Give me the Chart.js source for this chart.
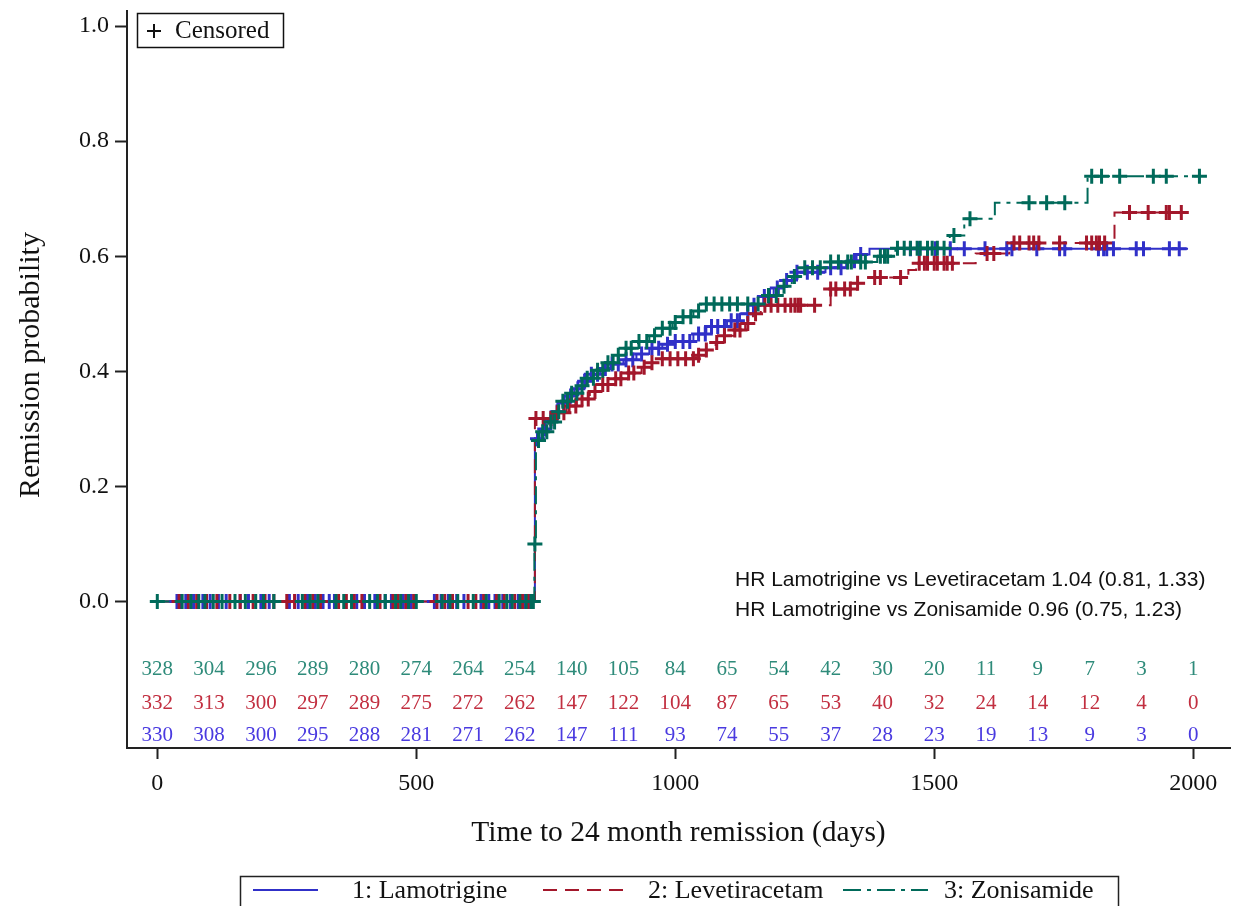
<!DOCTYPE html>
<html>
<head>
<meta charset="utf-8">
<script src="https://cdn.jsdelivr.net/npm/chart.js@4.4.0/dist/chart.umd.min.js"></script>
<style>
  html, body { margin: 0; padding: 0; background: #fff; }
</style>
</head>
<body>
<canvas id="km" width="1243" height="906"></canvas>
<script>
// Kaplan-Meier step points: [days, remission probability]
const lamSteps = [[0,0],[729,0.283],[738,0.30],[750,0.315],[762,0.33],[775,0.345],[790,0.357],[805,0.37],[820,0.383],[838,0.395],[855,0.405],[875,0.413],[900,0.42],[925,0.43],[950,0.44],[975,0.447],[1000,0.452],[1035,0.465],[1060,0.478],[1100,0.488],[1125,0.50],[1150,0.515],[1170,0.53],[1190,0.545],[1210,0.558],[1235,0.572],[1290,0.58],[1330,0.592],[1350,0.603],[1375,0.613],[1990,0.613]];
const levSteps = [[0,0],[729,0.318],[765,0.328],[790,0.34],[810,0.352],[835,0.365],[860,0.377],[885,0.387],[910,0.397],[935,0.407],[955,0.415],[975,0.422],[1040,0.428],[1060,0.437],[1078,0.45],[1095,0.462],[1115,0.472],[1135,0.483],[1150,0.50],[1165,0.515],[1300,0.543],[1340,0.553],[1370,0.563],[1450,0.576],[1465,0.588],[1580,0.605],[1645,0.623],[1848,0.676],[1990,0.676]];
const zonSteps = [[0,0],[728,0.10],[731,0.28],[742,0.295],[755,0.312],[768,0.33],[782,0.348],[797,0.362],[812,0.375],[830,0.388],[848,0.402],[865,0.415],[885,0.428],[905,0.44],[928,0.452],[950,0.462],[975,0.475],[995,0.485],[1015,0.495],[1035,0.505],[1050,0.517],[1180,0.532],[1200,0.548],[1225,0.565],[1250,0.58],[1300,0.59],[1390,0.60],[1425,0.614],[1530,0.636],[1558,0.665],[1617,0.693],[1796,0.739],[2015,0.739]];

// censoring times (days)
const lamCensor = [38,45,55,70,88,102,118,133,160,176,200,216,255,272,290,305,320,332,342,385,400,420,440,452,475,490,535,548,562,578,592,625,640,652,667,682,697,710,720,
  734,748,760,772,785,798,812,825,838,850,865,878,890,905,918,935,955,968,985,1000,1015,1028,1045,1058,1070,1082,1095,1108,1120,1140,1152,1172,1182,1197,1215,1235,1255,1275,1300,1320,1346,1358,1454,1471,1487,1502,1531,1558,1598,1640,1650,1698,1742,1752,1817,1827,1833,1846,1890,1904,1954,1973];
const levCensor = [42,60,76,95,115,140,160,185,208,225,250,265,285,300,315,350,365,380,395,430,455,465,480,495,540,555,570,600,615,630,655,670,690,705,716,724,
  731,745,760,772,785,795,808,820,832,845,860,870,885,895,910,920,940,955,975,990,1005,1020,1035,1045,1060,1080,1095,1115,1125,1140,1155,1173,1185,1198,1212,1223,1231,1237,1242,1269,1300,1310,1327,1338,1352,1385,1396,1435,1471,1481,1487,1500,1506,1519,1525,1535,1602,1615,1654,1665,1683,1692,1702,1742,1794,1804,1813,1819,1829,1877,1913,1948,1954,1977];
const zonCensor = [0,48,65,80,92,108,125,150,170,190,205,225,280,295,310,345,360,375,410,425,440,460,470,485,500,550,565,580,610,635,660,675,685,700,712,722,726,729,
  736,744,752,760,767,775,783,792,800,810,820,830,842,850,860,870,880,890,905,915,930,945,960,975,990,1000,1015,1030,1045,1060,1075,1090,1105,1120,1140,1160,1180,1195,1210,1230,1250,1265,1280,1300,1315,1333,1340,1358,1367,1396,1404,1410,1429,1442,1454,1467,1473,1487,1496,1506,1519,1538,1569,1683,1717,1752,1804,1823,1858,1923,1948,2012];

// numbers at risk
const riskTimes = [0,100,200,300,400,500,600,700,800,900,1000,1100,1200,1300,1400,1500,1600,1700,1800,1900,2000];
const zonRisk = [328,304,296,289,280,274,264,254,140,105,84,65,54,42,30,20,11,9,7,3,1];
const levRisk = [332,313,300,297,289,275,272,262,147,122,104,87,65,53,40,32,24,14,12,4,0];
const lamRisk = [330,308,300,295,288,281,271,262,147,111,93,74,55,37,28,23,19,13,9,3,0];

const xTicks = [0, 500, 1000, 1500, 2000];
const yTicks = [0, 0.2, 0.4, 0.6, 0.8, 1.0];

const hrLines = ['HR Lamotrigine vs Levetiracetam 1.04 (0.81, 1.33)', 'HR Lamotrigine vs Zonisamide 0.96 (0.75, 1.23)'];
const groupNames = ['1: Lamotrigine', '2: Levetiracetam', '3: Zonisamide'];

const blue = '#3030c8';
const red = '#a3172b';
const green = '#006a5a';
const blueTxt = '#4a3ae0';
const redTxt = '#c22f40';
const greenTxt = '#2e8b7a';
const serif = '"Liberation Serif", "Times New Roman", serif';
const sans = '"Liberation Sans", Arial, sans-serif';

const redDash = [14, 8];
const greenDash = [18, 6, 4, 6];

function toPts(steps) {
    return steps.map(s => ({ x: s[0], y: s[1] }));
}

// censored marks sit on the curve at that time
function censorPts(steps, times) {
    return times.map(t => {
        let v = 0;
        for (const s of steps) {
            if (s[0] <= t) v = s[1];
        }
        return { x: t, y: v };
    });
}

const extras = {
    id: 'extras',
    afterDraw(chart) {
        const ctx = chart.ctx;
        const xs = chart.scales.x;
        const ys = chart.scales.y;
        ctx.save();

        // y title
        ctx.fillStyle = '#111';
        ctx.font = '30px ' + serif;
        ctx.textAlign = 'center';
        ctx.textBaseline = 'middle';
        ctx.translate(31, 365);
        ctx.rotate(-Math.PI / 2);
        ctx.fillText('Remission probability', 0, 0);
        ctx.setTransform(1, 0, 0, 1, 0, 0);

        // censored box
        ctx.strokeStyle = '#111';
        ctx.lineWidth = 1.5;
        ctx.strokeRect(137.5, 13.5, 146, 34);
        ctx.lineWidth = 2;
        ctx.beginPath();
        ctx.moveTo(147, 31); ctx.lineTo(161, 31);
        ctx.moveTo(154, 24); ctx.lineTo(154, 38);
        ctx.stroke();
        ctx.textAlign = 'left';
        ctx.font = '25px ' + serif;
        ctx.fillText('Censored', 175, 31);

        // hazard ratios
        ctx.font = '21px ' + sans;
        ctx.fillStyle = '#111';
        ctx.fillText(hrLines[0], 735, 580);
        ctx.fillText(hrLines[1], 735, 610);

        // at risk table
        const y0 = ys.getPixelForValue(0);
        const rows = [[zonRisk, greenTxt, 68], [levRisk, redTxt, 101.5], [lamRisk, blueTxt, 134]];
        ctx.font = '21px ' + serif;
        ctx.textAlign = 'center';
        rows.forEach(r => {
            ctx.fillStyle = r[1];
            riskTimes.forEach((t, i) => {
                ctx.fillText(String(r[0][i]), xs.getPixelForValue(t), y0 + r[2]);
            });
        });

        // legend
        ctx.strokeStyle = '#222';
        ctx.lineWidth = 1.5;
        ctx.strokeRect(240.5, 876.5, 878, 40);
        const items = [[blue, [], 253, 318, 352], [red, redDash, 543, 627, 648], [green, greenDash, 843, 928, 944]];
        ctx.font = '26px ' + serif;
        ctx.textAlign = 'left';
        items.forEach((it, i) => {
            ctx.strokeStyle = it[0];
            ctx.lineWidth = 2;
            ctx.setLineDash(it[1]);
            ctx.beginPath();
            ctx.moveTo(it[2], 890);
            ctx.lineTo(it[3], 890);
            ctx.stroke();
            ctx.setLineDash([]);
            ctx.fillStyle = '#111';
            ctx.fillText(groupNames[i], it[4], 891);
        });
        ctx.restore();
    }
};

function curve(steps, color, dash) {
    return {
        type: 'line',
        data: toPts(steps),
        borderColor: color,
        borderWidth: 2,
        borderDash: dash,
        stepped: true,
        pointRadius: 0,
        fill: false,
        order: 2
    };
}

function marks(steps, times, color) {
    return {
        type: 'scatter',
        data: censorPts(steps, times),
        pointStyle: 'cross',
        pointRadius: 7.5,
        pointBorderWidth: 3,
        borderColor: color,
        backgroundColor: color,
        order: 1,
        clip: false
    };
}

const axisColor = '#222';

new Chart(document.getElementById('km'), {
    type: 'line',
    data: {
        datasets: [
            marks(zonSteps, zonCensor, green),
            marks(levSteps, levCensor, red),
            marks(lamSteps, lamCensor, blue),
            curve(zonSteps, green, greenDash),
            curve(levSteps, red, redDash),
            curve(lamSteps, blue, [])
        ]
    },
    options: {
        responsive: false,
        animation: false,
        devicePixelRatio: 1,
        layout: { padding: { left: 0, right: 13, top: 3, bottom: 0 } },
        plugins: { legend: { display: false }, tooltip: { enabled: false } },
        scales: {
            x: {
                type: 'linear',
                min: -58.5,
                max: 2071,
                afterBuildTicks: s => { s.ticks = xTicks.map(v => ({ value: v })); },
                afterFit: s => { s.height = 158; s.paddingLeft = 0; s.paddingRight = 0; },
                ticks: { font: { family: serif, size: 24 }, color: '#111', padding: 10, maxRotation: 0, autoSkip: false, callback: v => String(v) },
                grid: { drawOnChartArea: false, drawTicks: true, tickLength: 11, tickColor: axisColor, tickWidth: 2 },
                border: { color: axisColor, width: 2 },
                title: { display: true, text: 'Time to 24 month remission (days)', font: { family: serif, size: 29.5 }, color: '#111', padding: { top: 0, bottom: 55 } }
            },
            y: {
                type: 'linear',
                min: -0.2544,
                max: 1.027,
                afterBuildTicks: s => { s.ticks = yTicks.map(v => ({ value: v })); },
                afterFit: s => { s.width = 127; s.paddingTop = 0; s.paddingBottom = 0; },
                ticks: { font: { family: serif, size: 24 }, color: '#111', padding: 6, callback: v => v.toFixed(1) },
                grid: { drawOnChartArea: false, drawTicks: true, tickLength: 12, tickColor: axisColor, tickWidth: 2 },
                border: { color: axisColor, width: 2 }
            }
        }
    },
    plugins: [extras]
});
</script>
</body>
</html>
